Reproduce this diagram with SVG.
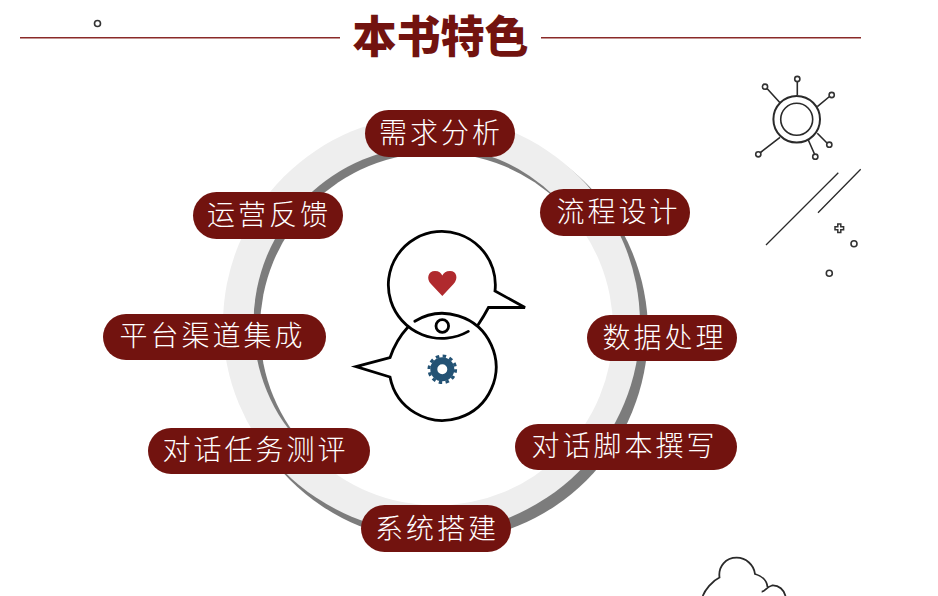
<svg xmlns="http://www.w3.org/2000/svg" width="938" height="596" viewBox="0 0 938 596">
<style>
.pill{fill:#72130f}
.pt{font-family:"Noto Sans CJK SC","Liberation Serif",serif;font-size:28px;font-weight:300;fill:#fff;text-anchor:middle;letter-spacing:3px}
.ln{fill:none;stroke:#000;stroke-width:2.800;stroke-linejoin:miter;stroke-linecap:round}
.th{fill:none;stroke:#2a2a2a;stroke-width:1.600}
.dot{fill:#fff;stroke:#333;stroke-width:1.600}
</style>
<rect width="938" height="596" fill="#fff"/>
<g id="title">
<line x1="20" y1="37.700" x2="340" y2="37.700" stroke="#8a2a28" stroke-width="1.400"/>
<line x1="541" y1="37.700" x2="861" y2="37.700" stroke="#8a2a28" stroke-width="1.400"/>
<text x="440.500" y="53" font-family="Noto Sans CJK SC,sans-serif" font-weight="900" font-size="44" fill="#72130f" text-anchor="middle">本书特色</text>
<circle cx="97.500" cy="23.500" r="3" class="dot"/>
</g>
<g id="ring">
<circle cx="438.500" cy="332" r="209.500" fill="#7c7c7c"/>
<circle cx="431.500" cy="324" r="208.500" fill="#eeeeee"/>
<circle cx="431" cy="323.500" r="177.500" fill="#7c7c7c"/>
<circle cx="436.500" cy="329" r="176.500" fill="#fff"/>
</g>
<g id="center">
<path class="ln" d="M468.300 331.400A53.500 53.500 0 1 1 495 291L525 307.500L488.500 307.500Q484 316 478 325"/>
<path class="ln" d="M414.800 321.200A53.500 53.500 0 1 1 390 377L356 366.700L390 357.700Q396 340 408 327"/>
<circle class="ln" cx="442.300" cy="326" r="6.300"/>
<path d="M442.300 296L431 284C426 279 428 271 435 271C439 271 441 273 442.300 275.500C443.600 273 446 271 450 271C457 271 458.500 279 453.500 284Z" fill="#b02a2e"/>
<circle cx="442.300" cy="369.300" r="8.500" fill="none" stroke="#235274" stroke-width="7"/>
<circle cx="442.300" cy="369.300" r="13.300" fill="none" stroke="#235274" stroke-width="3" stroke-dasharray="3.500 3.460"/>
</g>
<g id="deco">
<circle cx="796.700" cy="119.300" r="23.300" class="th" style="stroke-width:2"/>
<circle cx="796.700" cy="119.300" r="16" class="th"/>
<path class="th" d="M797.300 82V95M767 88.500L780 102.700M829.500 96.500L817.300 106.700M827 143L817.300 133.300M814.500 154L808.300 140M760.500 152.500L780 137.300"/>
<path class="th" style="stroke-width:1.300" d="M766 245L838.300 172.700M818 212.700L860.700 169.300"/>
<circle class="dot" cx="797.300" cy="79" r="2.600"/><circle class="dot" cx="765" cy="86.700" r="2.600"/><circle class="dot" cx="831.700" cy="95" r="2.600"/><circle class="dot" cx="829.300" cy="144.700" r="2.600"/><circle class="dot" cx="815.300" cy="156.700" r="2.600"/><circle class="dot" cx="758.300" cy="154.300" r="2.600"/>
<path d="M837.800 224h3v2.800h2.800v3h-2.800v2.800h-3v-2.800h-2.800v-3h2.800z" fill="#fff" stroke="#333" stroke-width="1.500"/>
<circle class="dot" cx="854" cy="243.700" r="3"/><circle class="dot" cx="829.300" cy="273.300" r="3"/>
<path class="th" style="stroke-width:1.800" d="M702.700 596C705 590 712 581 719.500 577.500C718 566 726 557.700 736.700 557.700C746 557.700 754 565 755 574C762 576 767 581 767.500 587M761.700 591.500C765 592 766 587 772 585.500C779 585 784 590 785.500 596"/>
</g>
<g id="n1"><rect class="pill" x="365" y="110" width="150" height="47" rx="23.500"/><text class="pt" x="441" y="143">需求分析</text></g>
<g id="n2"><rect class="pill" x="540" y="189" width="150" height="47" rx="23.500"/><text class="pt" x="618.500" y="222">流程设计</text></g>
<g id="n3"><rect class="pill" x="587" y="315" width="150" height="46" rx="23"/><text class="pt" x="664.500" y="348">数据处理</text></g>
<g id="n4"><rect class="pill" x="515" y="424" width="222" height="46" rx="23"/><text class="pt" x="624.500" y="456">对话脚本撰写</text></g>
<g id="n5"><rect class="pill" x="361" y="505" width="150" height="47" rx="23.500"/><text class="pt" x="437" y="539">系统搭建</text></g>
<g id="n6"><rect class="pill" x="148" y="428" width="222" height="46" rx="23"/><text class="pt" x="255.500" y="460">对话任务测评</text></g>
<g id="n7"><rect class="pill" x="103" y="314" width="223" height="46" rx="23"/><text class="pt" x="212.500" y="346">平台渠道集成</text></g>
<g id="n8"><rect class="pill" x="193" y="192" width="150" height="47" rx="23.500"/><text class="pt" x="269" y="225">运营反馈</text></g>
</svg>
